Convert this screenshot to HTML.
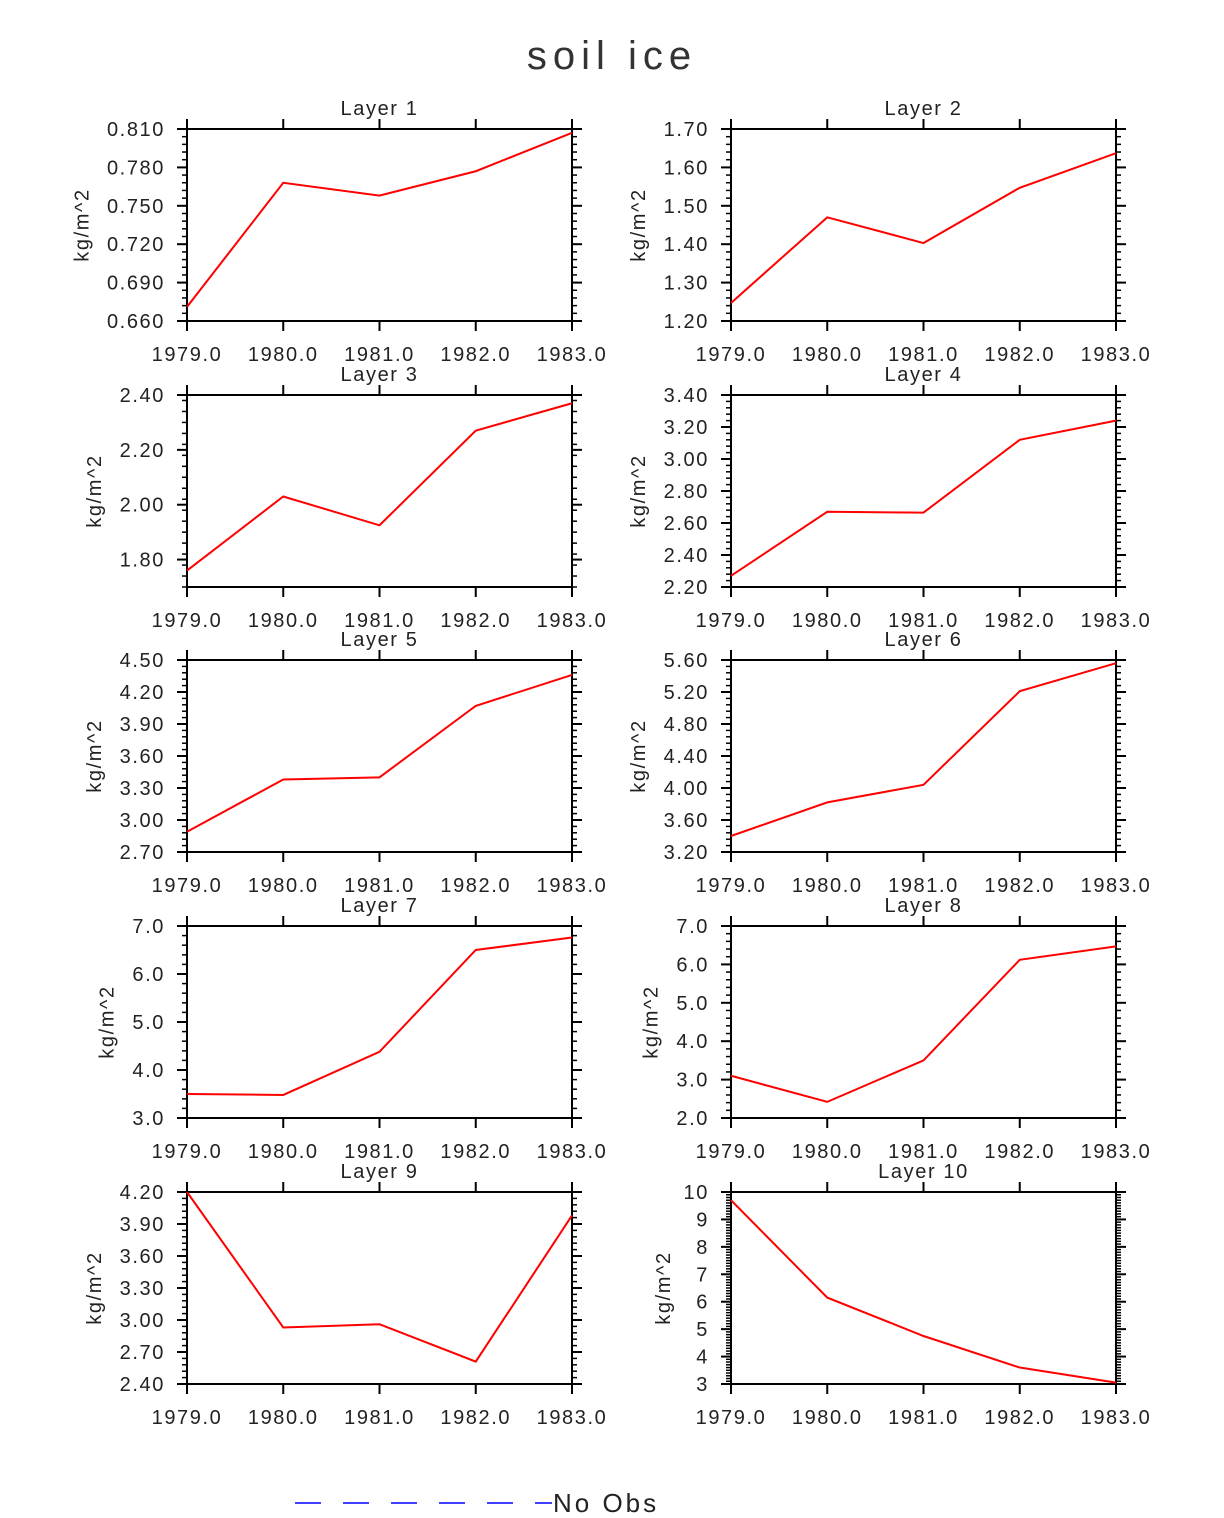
<!DOCTYPE html>
<html><head><meta charset="utf-8"><style>
body{margin:0;background:#fff;}
svg text{font-family:"Liberation Sans",sans-serif;fill:#222;letter-spacing:1.6px;}
</style></head><body>
<svg id="chart" width="1224" height="1513" viewBox="0 0 1224 1513" xmlns="http://www.w3.org/2000/svg">
<text x="612" y="69" text-anchor="middle" font-size="40" style="letter-spacing:6px;fill:#333">soil ice</text>
<g id="panels"></g>
<g>
<line x1="295" y1="1503" x2="552" y2="1503" stroke="#0000ff" stroke-width="1.5" stroke-dasharray="26,22"/>
<text x="553" y="1512" font-size="26" style="letter-spacing:3px">No Obs</text>
</g>
</svg>
<script>
const years = [1979, 1980, 1981, 1982, 1983];
const layerNames = ["Layer 1","Layer 2","Layer 3","Layer 4","Layer 5","Layer 6","Layer 7","Layer 8","Layer 9","Layer 10"];
const layer1 = [0.671, 0.768, 0.758, 0.777, 0.807];
const layer2 = [1.247, 1.470, 1.403, 1.547, 1.637];
const layer3 = [1.76, 2.03, 1.925, 2.27, 2.37];
const layer4 = [2.27, 2.67, 2.665, 3.12, 3.24];
const layer5 = [2.89, 3.38, 3.40, 4.07, 4.36];
const layer6 = [3.40, 3.82, 4.04, 5.21, 5.56];
const layer7 = [3.50, 3.48, 4.38, 6.50, 6.76];
const layer8 = [3.10, 2.42, 3.50, 6.12, 6.47];
const layer9 = [4.20, 2.93, 2.96, 2.61, 3.98];
const layer10 = [9.70, 6.15, 4.75, 3.60, 3.05];
const yMins = [0.66, 1.2, 1.70, 2.2, 2.7, 3.2, 3.0, 2.0, 2.4, 3];
const yMaxs = [0.81, 1.7, 2.40, 3.4, 4.5, 5.6, 7.0, 7.0, 4.2, 10];
const yTickLabels = [
 ["0.660","0.690","0.720","0.750","0.780","0.810"],
 ["1.20","1.30","1.40","1.50","1.60","1.70"],
 ["1.80","2.00","2.20","2.40"],
 ["2.20","2.40","2.60","2.80","3.00","3.20","3.40"],
 ["2.70","3.00","3.30","3.60","3.90","4.20","4.50"],
 ["3.20","3.60","4.00","4.40","4.80","5.20","5.60"],
 ["3.0","4.0","5.0","6.0","7.0"],
 ["2.0","3.0","4.0","5.0","6.0","7.0"],
 ["2.40","2.70","3.00","3.30","3.60","3.90","4.20"],
 ["3","4","5","6","7","8","9","10"]
];
const xTickLabels = ["1979.0","1980.0","1981.0","1982.0","1983.0"];
const minorCounts = [5,5,5,5,5,5,5,5,5,10];
const series = [layer1,layer2,layer3,layer4,layer5,layer6,layer7,layer8,layer9,layer10];

const NS = "http://www.w3.org/2000/svg";
const root = document.getElementById("panels");
function mk(tag, attrs, parent){
  const e = document.createElementNS(NS, tag);
  for (const k in attrs) e.setAttribute(k, attrs[k]);
  parent.appendChild(e); return e;
}
const lefts = [187, 731], W = 385, H = 192;
const tops = [129, 395, 660, 926, 1192];
for (let i = 0; i < 10; i++) {
  const x0 = lefts[i % 2], y0 = tops[Math.floor(i / 2)];
  const ymin = yMins[i], ymax = yMaxs[i];
  const xs = v => x0 + (v - years[0]) / (years[4] - years[0]) * W;
  const ys = v => y0 + H - (v - ymin) / (ymax - ymin) * H;
  const g = mk("g", {}, root);
  
  
  const t = mk("text", {x: x0 + W / 2, y: y0 - 14, "text-anchor": "middle", "font-size": 20}, g);
  
  
  t.textContent = layerNames[i];
  const fr = mk("rect", {x: x0, y: y0, width: W, height: H, fill: "none", stroke: "#000", "stroke-width": 2}, g);
  
  
  years.forEach((yr, k) => {
    const x = xs(yr);
    mk("line", {x1: x, y1: y0 + H, x2: x, y2: y0 + H + 10, stroke: "#000", "stroke-width": 2}, g);
    mk("line", {x1: x, y1: y0, x2: x, y2: y0 - 10, stroke: "#000", "stroke-width": 2}, g);
    const tl = mk("text", {x: x, y: y0 + H + 40, "text-anchor": "middle", "font-size": 20}, g);
    
    
    tl.textContent = xTickLabels[k];
  });
  const labs = yTickLabels[i];
  const vals = labs.map(Number);
  const step = vals[1] - vals[0];
  const mstep = step / minorCounts[i];
  for (let v = ymin; v <= ymax + 1e-9; v += mstep) {
    const y = ys(v);
    mk("line", {x1: x0, y1: y, x2: x0 - 5, y2: y, stroke: "#000", "stroke-width": 1.5}, g);
    mk("line", {x1: x0 + W, y1: y, x2: x0 + W + 5, y2: y, stroke: "#000", "stroke-width": 1.5}, g);
  }
  let maxw = 0;
  labs.forEach(l => {
    const v = Number(l), y = ys(v);
    if (v < ymin - 1e-9 || v > ymax + 1e-9) return;
    mk("line", {x1: x0, y1: y, x2: x0 - 10, y2: y, stroke: "#000", "stroke-width": 2}, g);
    mk("line", {x1: x0 + W, y1: y, x2: x0 + W + 10, y2: y, stroke: "#000", "stroke-width": 2}, g);
    const tl = mk("text", {x: x0 - 22, y: y + 7, "text-anchor": "end", "font-size": 20}, g);
    
    
    tl.textContent = l;
    maxw = Math.max(maxw, l.length);
  });
  const lx = x0 - 22 - maxw * 12.5 - 14;
  const yl = mk("text", {x: lx, y: y0 + H / 2, "text-anchor": "middle", "font-size": 20, transform: "rotate(-90 " + lx + " " + (y0 + H / 2) + ")"}, g);
  
  
  yl.textContent = "kg/m^2";
  const pts = series[i].map((v, k) => xs(years[k]) + "," + ys(v)).join(" ");
  const pl = mk("polyline", {points: pts, fill: "none", stroke: "#ff0000", "stroke-width": 2}, g);
  
  
}
</script>
</body></html>
